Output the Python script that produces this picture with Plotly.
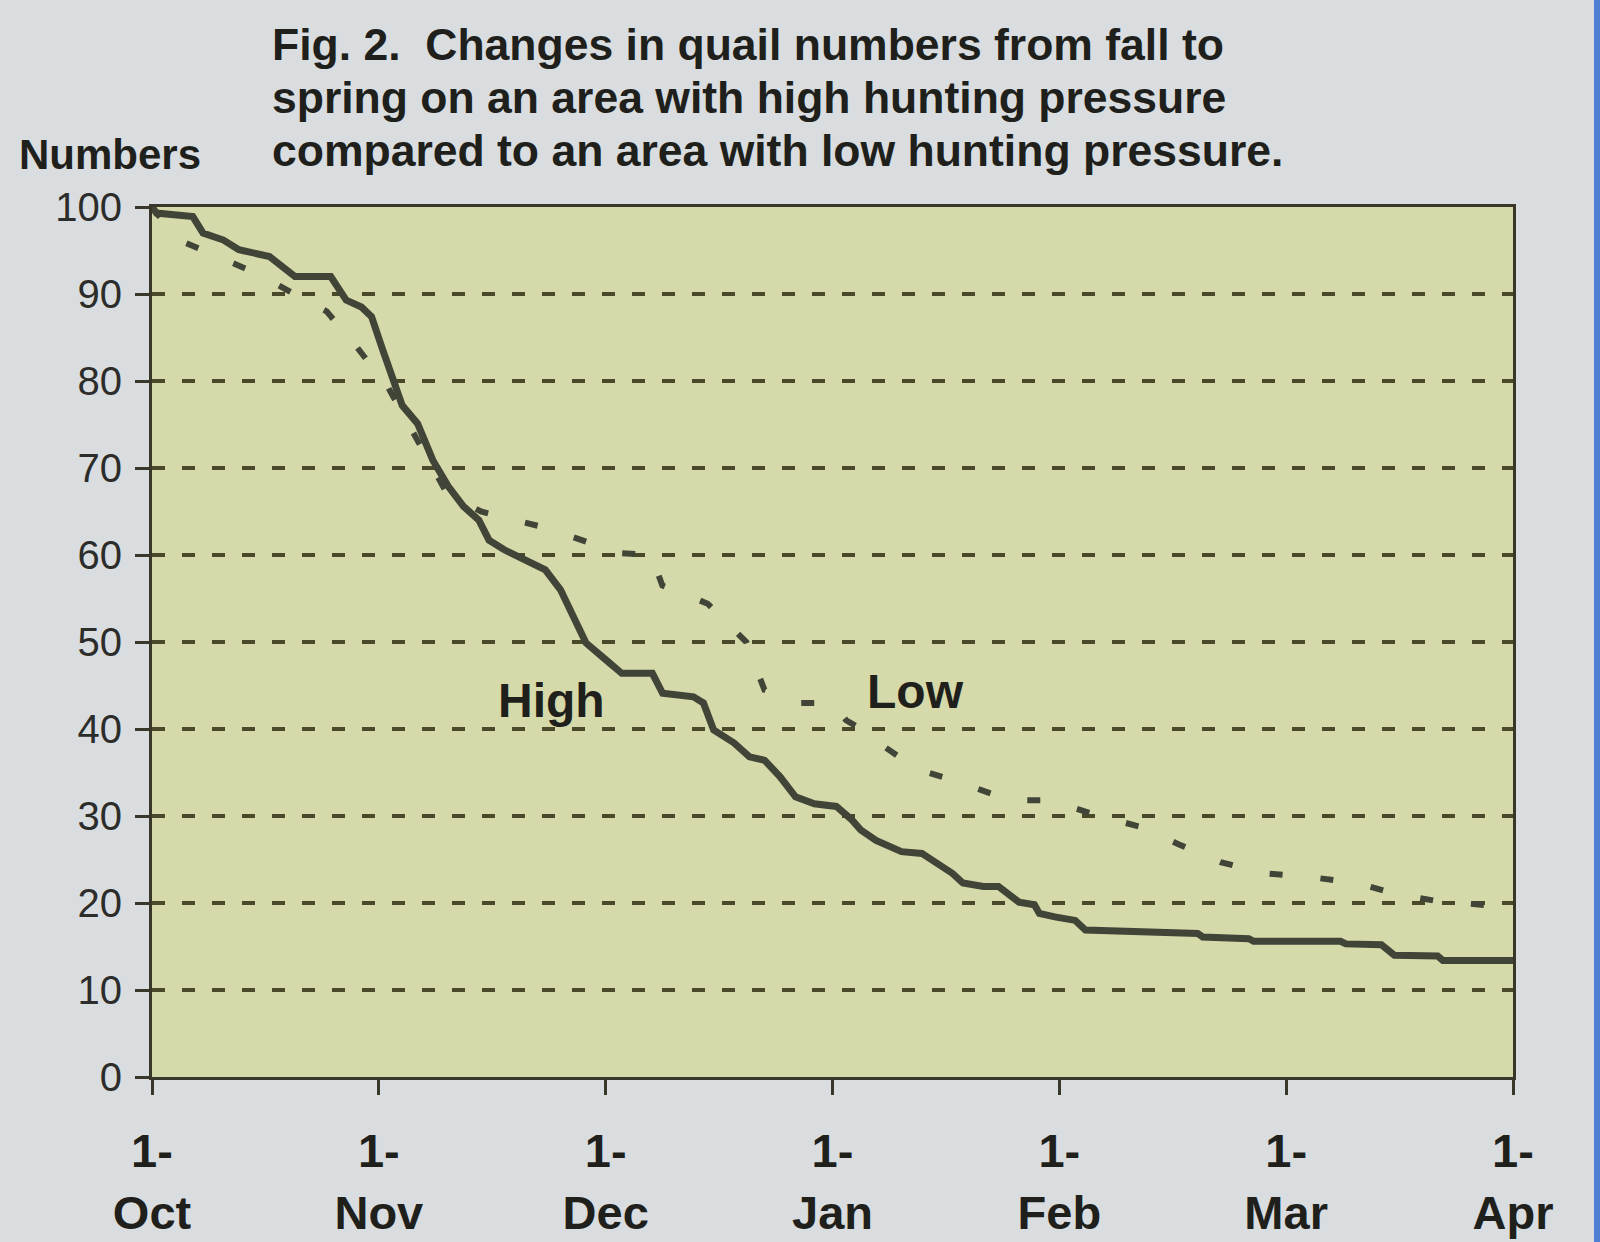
import plotly.graph_objects as go

# Month boundaries along the x axis (position i = 1st of that month)
months = ["Oct", "Nov", "Dec", "Jan", "Feb", "Mar", "Apr"]
month_pos = [0, 1, 2, 3, 4, 5, 6]
tick_text = ["1-<br>" + m for m in months]

y_ticks = [0, 10, 20, 30, 40, 50, 60, 70, 80, 90, 100]

title_lines = [
    "Fig. 2.  Changes in quail numbers from fall to",
    "spring on an area with high hunting pressure",
    "compared to an area with low hunting pressure.",
]

# High hunting pressure area (x in months after 1 Oct, y = numbers)
high_x = [0, 0.02, 0.18, 0.225, 0.315, 0.383, 0.518, 0.63, 0.788, 0.856, 0.923,
          0.968, 1.013, 1.058, 1.103, 1.171, 1.238, 1.306, 1.373, 1.441, 1.486,
          1.553, 1.643, 1.734, 1.801, 1.868, 1.913, 2.003, 2.071, 2.206, 2.251,
          2.387, 2.431, 2.476, 2.566, 2.634, 2.701, 2.769, 2.837, 2.92, 3.017,
          3.084, 3.124, 3.192, 3.304, 3.394, 3.462, 3.529, 3.575, 3.665, 3.732,
          3.777, 3.822, 3.89, 3.912, 3.98, 4.07, 4.115, 4.61, 4.632, 4.835,
          4.857, 5.24, 5.263, 5.42, 5.477, 5.668, 5.691, 6.0]
high_y = [100, 99.3, 98.9, 97.0, 96.2, 95.1, 94.3, 92.0, 92.0, 89.3, 88.5,
          87.4, 83.9, 80.5, 77.2, 75.1, 70.9, 67.9, 65.6, 64.0, 61.7,
          60.6, 59.4, 58.3, 56.0, 52.5, 49.9, 47.9, 46.4, 46.4, 44.1,
          43.7, 43.0, 39.9, 38.4, 36.8, 36.4, 34.5, 32.2, 31.4, 31.1,
          29.6, 28.4, 27.2, 25.9, 25.7, 24.6, 23.4, 22.3, 21.9, 21.9,
          20.9, 20.1, 19.8, 18.8, 18.4, 18.0, 16.9, 16.5, 16.1, 15.9,
          15.6, 15.6, 15.3, 15.2, 14.0, 13.9, 13.4, 13.4]

# Low hunting pressure area
low_x = [0, 0.11, 0.45, 0.77, 0.9, 1.04, 1.3, 1.45, 1.71, 1.89, 2.07, 2.2,
         2.25, 2.45, 2.62, 2.7, 2.85, 3.0, 3.06, 3.12, 3.21, 3.37, 3.57,
         3.78, 3.96, 4.15, 4.35, 4.53, 4.71, 4.91, 5.1, 5.31, 5.49, 5.67,
         5.91, 6.0]
low_y = [100, 96.3, 92.5, 88.0, 84.0, 79.3, 67.1, 65.0, 63.3, 61.7, 60.2, 60.0,
         56.5, 54.4, 50.0, 44.5, 43.0, 43.0, 41.0, 40.1, 38.3, 35.4, 33.8,
         31.8, 31.8, 30.2, 28.8, 26.7, 24.7, 23.4, 23.0, 22.3, 21.0, 20.2,
         19.7, 20.1]

FONT = "Liberation Sans, Arial, Helvetica, sans-serif"
INK = "#1f1f1c"
AXIS = "#38372a"
LINE = "#404538"

# plot area in page pixels
L, R, T, B = 152, 1513, 207, 1077
PW, PH = R - L, B - T

fig = go.Figure()

fig.add_trace(go.Scatter(
    x=low_x, y=low_y, mode="lines", name="Low",
    line=dict(color=LINE, width=6, dash="13px,38px"),
    hoverinfo="skip", showlegend=False,
))
fig.add_trace(go.Scatter(
    x=high_x, y=high_y, mode="lines", name="High",
    line=dict(color=LINE, width=7),
    hoverinfo="skip", showlegend=False,
))

fig.update_layout(
    width=1600, height=1242,
    paper_bgcolor="#d9dde0",
    plot_bgcolor="#d6d9a9",
    margin=dict(l=L, r=1600 - R, t=T, b=1242 - B, autoexpand=False),
    font=dict(family=FONT, color=INK),
    xaxis=dict(
        range=[0, 6], tickvals=month_pos, ticktext=tick_text,
        showgrid=False, zeroline=False, automargin=False,
        showline=True, mirror=True, linecolor=AXIS, linewidth=3,
        ticks="outside", ticklen=15, tickwidth=3, tickcolor=AXIS,
        tickfont=dict(size=47, family=FONT, color=INK, weight="bold"),
        ticklabelstandoff=16,
    ),
    xaxis2=dict(
        range=[0, 6], tickvals=month_pos, overlaying="x", anchor="y",
        side="bottom", showgrid=False, zeroline=False, showline=False,
        ticks="inside", ticklen=15, tickwidth=3, tickcolor=AXIS,
        showticklabels=False, automargin=False,
    ),
    yaxis=dict(
        range=[0, 100], tickvals=y_ticks, automargin=False,
        showgrid=True, gridcolor="#4a4a2a", gridwidth=3.5,
        griddash="13px,17px", zeroline=False,
        showline=True, mirror=True, linecolor=AXIS, linewidth=3,
        ticks="outside", ticklen=14, tickwidth=2.5, tickcolor=AXIS,
        tickfont=dict(size=40, family=FONT, color="#2c2c2a"),
        ticklabelstandoff=5,
    ),
)

annotations = []
# caption, one annotation per line so the line spacing stays tight
for i, line in enumerate(title_lines):
    cy = 44 + 53 * i
    annotations.append(dict(
        text="<b>" + line + "</b>", xref="paper", yref="paper",
        x=(270 - L) / PW, y=(B - cy) / PH,
        xanchor="left", yanchor="middle", align="left", showarrow=False,
        font=dict(size=44.5, family=FONT, color=INK)))

annotations += [
    dict(text="<b>Numbers</b>", xref="paper", yref="paper",
         x=(110 - L) / PW, y=(B - 154) / PH,
         xanchor="center", yanchor="middle", showarrow=False,
         font=dict(size=42, family=FONT, color=INK)),
    dict(text="<b>High</b>", xref="x", yref="y", x=1.76, y=43.3,
         xanchor="center", yanchor="middle", showarrow=False,
         font=dict(size=48, family=FONT, color=INK)),
    dict(text="<b>Low</b>", xref="x", yref="y", x=3.365, y=44.3,
         xanchor="center", yanchor="middle", showarrow=False,
         font=dict(size=48, family=FONT, color=INK)),
]
fig.update_layout(annotations=annotations)

# blue frame edge at the far right of the page
fig.add_shape(type="rect", xref="paper", yref="paper",
              x0=(1594 - L) / PW, x1=(1600 - L) / PW,
              y0=(B - 1242) / PH, y1=B / PH,
              fillcolor="#4f7fd4", line=dict(width=0), layer="below")

fig.write_html("out.html")
